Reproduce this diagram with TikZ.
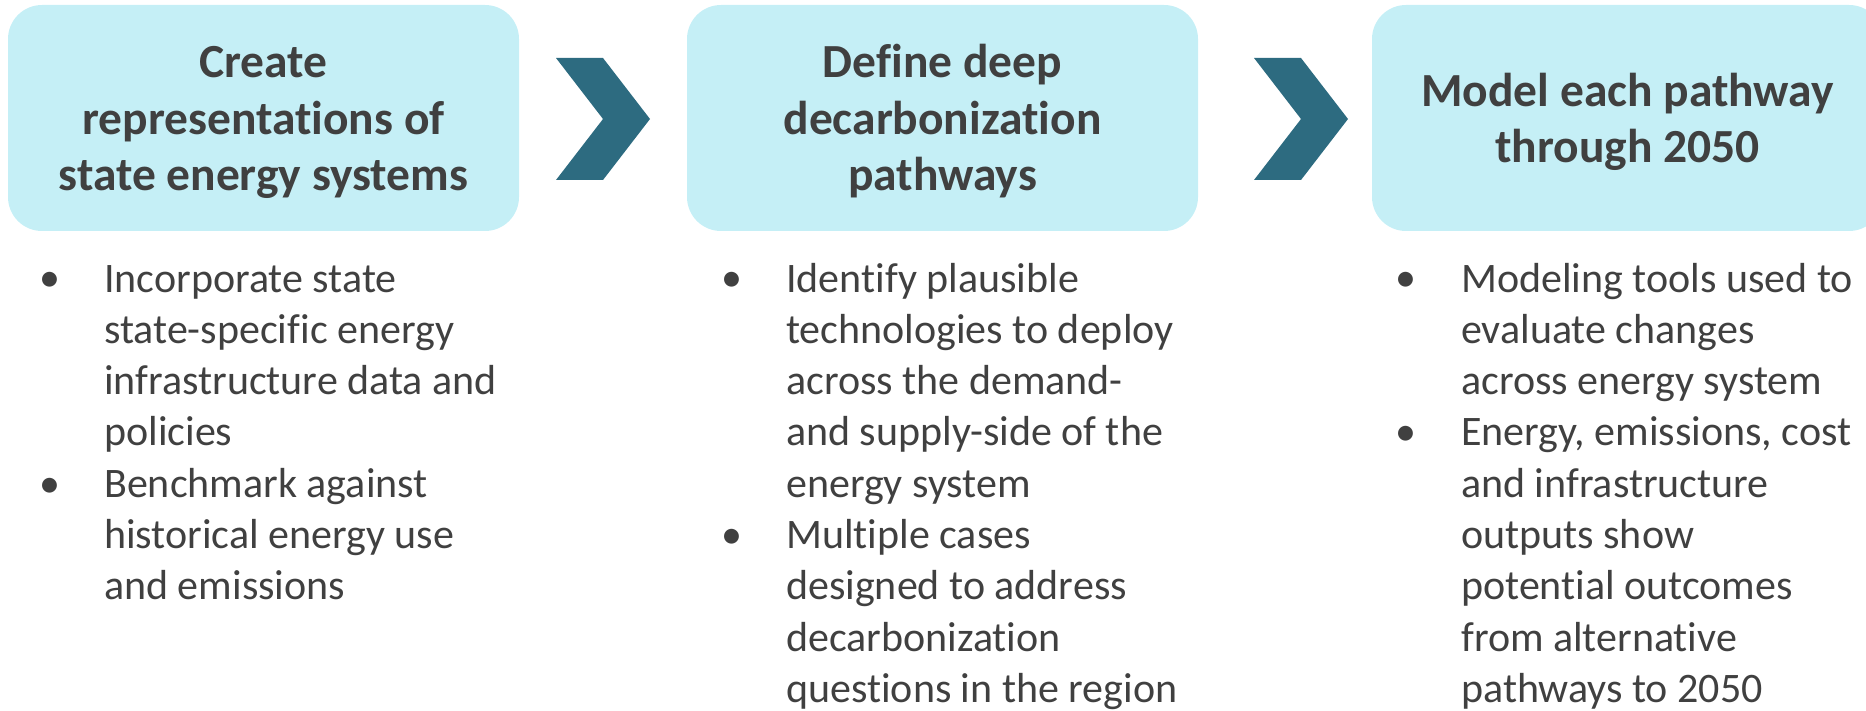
\documentclass[tikz,border=0pt]{standalone}
\usepackage{fontspec}
\setmainfont[Ligatures=NoCommon]{Carlito}
\definecolor{boxfill}{HTML}{C5EFF6}
\definecolor{chevblue}{HTML}{2D6B80}
\definecolor{txtgray}{HTML}{404040}

\begin{document}
\begin{tikzpicture}[x=1pt,y=-1pt,
	stage/.style={draw=none,fill=boxfill,rounded corners=34pt,minimum width=511pt,minimum height=226pt,inner sep=0pt},
	stagetitle/.style={text=txtgray,align=center,anchor=base,inner sep=0pt,font=\bfseries\fontsize{47.5}{56.8}\selectfont},
	itemtext/.style={text=txtgray,align=left,anchor=base west,inner sep=0pt,font=\fontsize{42}{51.3}\selectfont},
	bulletdot/.style={text=txtgray,anchor=base,inner sep=0pt,font=\fontsize{42}{51.3}\selectfont}]
	\useasboundingbox (0,0) rectangle (1866,711);

	% stage boxes
	\node[stage] (create) at (263.5,118) {};
	\node[stage] (define) at (942.5,118) {};
	\node[stage] (model) at (1627.5,118) {};

	% titles, placed on the baseline of their last line
	\node[stagetitle] (createT) at (263.5,191) {Create\\representations of\\state energy systems};
	\node[stagetitle] (defineT) at (942.5,191) {Define deep\\decarbonization\\pathways};
	\node[stagetitle] (modelT) at (1627.5,163) {Model each pathway\\through 2050};

	% chevrons between the stages
	\foreach \x in {556,1254}
		\fill[chevblue] (\x,58) -- ++(47,0) -- ++(47,61) -- ++(-47,61) -- ++(-47,0) -- ++(47,-61) -- cycle;

	% bullet lists (text nodes sit on the baseline of their last line)
	\node[bulletdot] (createD1) at (50,292) {•};
	\node[itemtext] (createI1) at (104,445.9) {Incorporate state\\state-specific energy\\infrastructure data and\\policies};
	\node[bulletdot] (createD2) at (50,497.2) {•};
	\node[itemtext] (createI2) at (104,599.8) {Benchmark against\\historical energy use\\and emissions};

	\node[bulletdot] (defineD1) at (732,292) {•};
	\node[itemtext] (defineI1) at (786,497.2) {Identify plausible\\technologies to deploy\\across the demand-\\and supply-side of the\\energy system};
	\node[bulletdot] (defineD2) at (732,548.5) {•};
	\node[itemtext] (defineI2) at (786,702.4) {Multiple cases\\designed to address\\decarbonization\\questions in the region};

	\node[bulletdot] (modelD1) at (1406,292) {•};
	\node[itemtext] (modelI1) at (1461,394.6) {Modeling tools used to\\evaluate changes\\across energy system};
	\node[bulletdot] (modelD2) at (1406,445.9) {•};
	\node[itemtext] (modelI2) at (1461,702.4) {Energy, emissions, cost\\and infrastructure\\outputs show\\potential outcomes\\from alternative\\pathways to 2050};
\end{tikzpicture}
\end{document}
